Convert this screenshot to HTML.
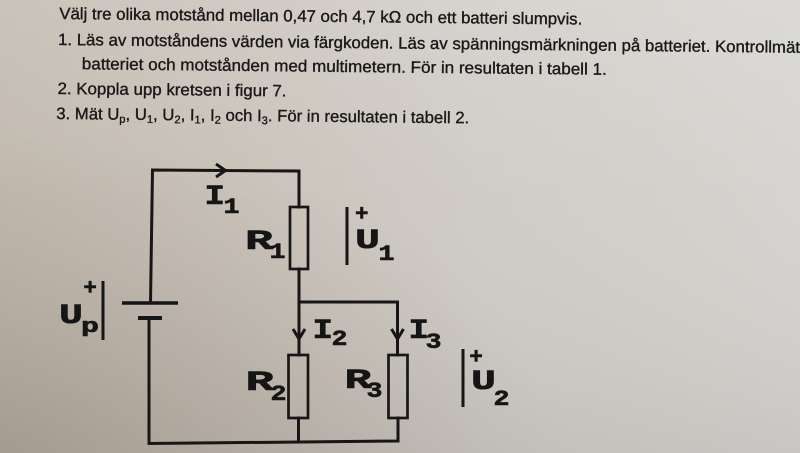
<!DOCTYPE html>
<html>
<head>
<meta charset="utf-8">
<style>
  html, body { margin: 0; padding: 0; }
  body { width: 800px; height: 453px; overflow: hidden; background: #ccc7bf; }
  svg { display: block; }
</style>
</head>
<body>
<svg width="800" height="453" viewBox="0 0 800 453" xmlns="http://www.w3.org/2000/svg">
  <defs>
    <linearGradient id="bgx" x1="0" y1="0" x2="1" y2="0">
      <stop offset="0" stop-color="#c0b8ad"/>
      <stop offset="0.3" stop-color="#c8c1b8"/>
      <stop offset="0.6" stop-color="#cfcbc5"/>
      <stop offset="1" stop-color="#d5d3cf"/>
    </linearGradient>
    <linearGradient id="bgy" x1="0" y1="0" x2="0" y2="1">
      <stop offset="0" stop-color="#ffffff" stop-opacity="0.16"/>
      <stop offset="0.45" stop-color="#ffffff" stop-opacity="0.02"/>
      <stop offset="1" stop-color="#000000" stop-opacity="0.06"/>
    </linearGradient>
    <radialGradient id="bgbl" cx="0" cy="1" r="0.7">
      <stop offset="0" stop-color="#5a4a38" stop-opacity="0.18"/>
      <stop offset="1" stop-color="#5a4a38" stop-opacity="0"/>
    </radialGradient>
  </defs>
  <rect x="0" y="0" width="800" height="453" fill="url(#bgx)"/>
  <rect x="0" y="0" width="800" height="453" fill="url(#bgy)"/>
  <rect x="0" y="0" width="800" height="453" fill="url(#bgbl)"/>

  <!-- Instruction text -->
  <g transform="rotate(0.6 58 45)" font-family="'Liberation Sans', sans-serif" font-size="16.5" fill="#181818" stroke="#181818" stroke-width="0.35">
    <text x="59" y="19" textLength="523" lengthAdjust="spacingAndGlyphs">Välj tre olika motstånd mellan 0,47 och 4,7 kΩ och ett batteri slumpvis.</text>
    <text x="58" y="45" textLength="742" lengthAdjust="spacingAndGlyphs">1. Läs av motståndens värden via färgkoden. Läs av spänningsmärkningen på batteriet. Kontrollmät</text>
    <text x="82" y="69" textLength="525" lengthAdjust="spacingAndGlyphs">batteriet och motstånden med multimetern. För in resultaten i tabell 1.</text>
    <text x="58" y="94" textLength="229" lengthAdjust="spacingAndGlyphs">2. Koppla upp kretsen i figur 7.</text>
    <text x="57" y="119" textLength="413" lengthAdjust="spacingAndGlyphs">3. Mät U<tspan font-size="11" dy="3">p</tspan><tspan dy="-3">, U</tspan><tspan font-size="11" dy="3">1</tspan><tspan dy="-3">, U</tspan><tspan font-size="11" dy="3">2</tspan><tspan dy="-3">, I</tspan><tspan font-size="11" dy="3">1</tspan><tspan dy="-3">, I</tspan><tspan font-size="11" dy="3">2</tspan><tspan dy="-3"> och I</tspan><tspan font-size="11" dy="3">3</tspan><tspan dy="-3">. För in resultaten i tabell 2.</tspan></text>
  </g>

  <!-- Circuit wires -->
  <g stroke="#161616" stroke-width="3" fill="none" stroke-linejoin="miter" stroke-linecap="square">
    <path d="M150.5 303 L152.5 170 L299 171 L299 207"/>
    <path d="M299 269 L299 355"/>
    <path d="M299 302 L397.5 302 L397.5 355"/>
    <path d="M298.5 418 L298.5 442"/>
    <path d="M149 318 L149 443.5 L398 441 L398 418"/>
  </g>

  <!-- Resistors -->
  <g stroke="#161616" stroke-width="2.7" fill="none">
    <rect x="290" y="207" width="18" height="62"/>
    <rect x="288.5" y="355" width="19.5" height="63"/>
    <rect x="388.5" y="355" width="19" height="63"/>
  </g>

  <!-- Battery -->
  <line x1="122" y1="303" x2="178" y2="303" stroke="#161616" stroke-width="3.5"/>
  <line x1="138" y1="318" x2="162" y2="318" stroke="#161616" stroke-width="4"/>

  <!-- Arrows -->
  <g stroke="#161616" stroke-width="3" fill="none" stroke-linejoin="miter">
    <polyline points="216,164 225.5,170.5 216,177"/>
    <polyline points="293,329 299,339 305,329"/>
    <polyline points="391.5,329 397.5,339 403.5,329"/>
  </g>

  <!-- Voltage bars -->
  <g stroke="#161616" stroke-width="3">
    <line x1="347" y1="207" x2="347" y2="265"/>
    <line x1="103" y1="281" x2="103" y2="340"/>
    <line x1="463" y1="349" x2="463" y2="407"/>
  </g>

  <!-- Labels -->
  <g font-family="'Liberation Mono', monospace" font-weight="bold" fill="#151515" stroke="#151515" stroke-width="0.6">
    <!-- I1 -->
    <text x="204.5" y="204" font-size="28" textLength="20.5" lengthAdjust="spacingAndGlyphs">I</text>
    <text x="223.5" y="213" font-size="22" textLength="16" lengthAdjust="spacingAndGlyphs">1</text>
    <!-- R1 -->
    <text x="245" y="249" font-size="28" textLength="28" lengthAdjust="spacingAndGlyphs">R</text>
    <text x="269.5" y="258" font-size="22" textLength="16" lengthAdjust="spacingAndGlyphs">1</text>
    <!-- U1 -->
    <text x="355" y="220.5" font-size="22" textLength="13.5" lengthAdjust="spacingAndGlyphs">+</text>
    <text x="355" y="248" font-size="28" textLength="25" lengthAdjust="spacingAndGlyphs">U</text>
    <text x="378.5" y="260" font-size="22" textLength="16" lengthAdjust="spacingAndGlyphs">1</text>
    <!-- Up -->
    <text x="83.4" y="294.5" font-size="22" textLength="13.5" lengthAdjust="spacingAndGlyphs">+</text>
    <text x="59" y="323" font-size="28" textLength="24" lengthAdjust="spacingAndGlyphs">U</text>
    <text x="81" y="332" font-size="20" textLength="18" lengthAdjust="spacingAndGlyphs">p</text>
    <!-- I2 -->
    <text x="312.5" y="338" font-size="28" textLength="20.5" lengthAdjust="spacingAndGlyphs">I</text>
    <text x="331.5" y="345" font-size="22" textLength="16" lengthAdjust="spacingAndGlyphs">2</text>
    <!-- I3 -->
    <text x="408.5" y="338" font-size="28" textLength="20.5" lengthAdjust="spacingAndGlyphs">I</text>
    <text x="425.5" y="348" font-size="22" textLength="16" lengthAdjust="spacingAndGlyphs">3</text>
    <!-- R2 -->
    <text x="245.5" y="390" font-size="28" textLength="28.5" lengthAdjust="spacingAndGlyphs">R</text>
    <text x="270.5" y="400" font-size="22" textLength="16" lengthAdjust="spacingAndGlyphs">2</text>
    <!-- R3 -->
    <text x="344.5" y="388" font-size="28" textLength="27" lengthAdjust="spacingAndGlyphs">R</text>
    <text x="366.5" y="397" font-size="22" textLength="16" lengthAdjust="spacingAndGlyphs">3</text>
    <!-- U2 -->
    <text x="469.4" y="363.5" font-size="22" textLength="13.5" lengthAdjust="spacingAndGlyphs">+</text>
    <text x="471" y="389" font-size="28" textLength="25" lengthAdjust="spacingAndGlyphs">U</text>
    <text x="493.5" y="405" font-size="22" textLength="16" lengthAdjust="spacingAndGlyphs">2</text>
  </g>
</svg>
</body>
</html>
